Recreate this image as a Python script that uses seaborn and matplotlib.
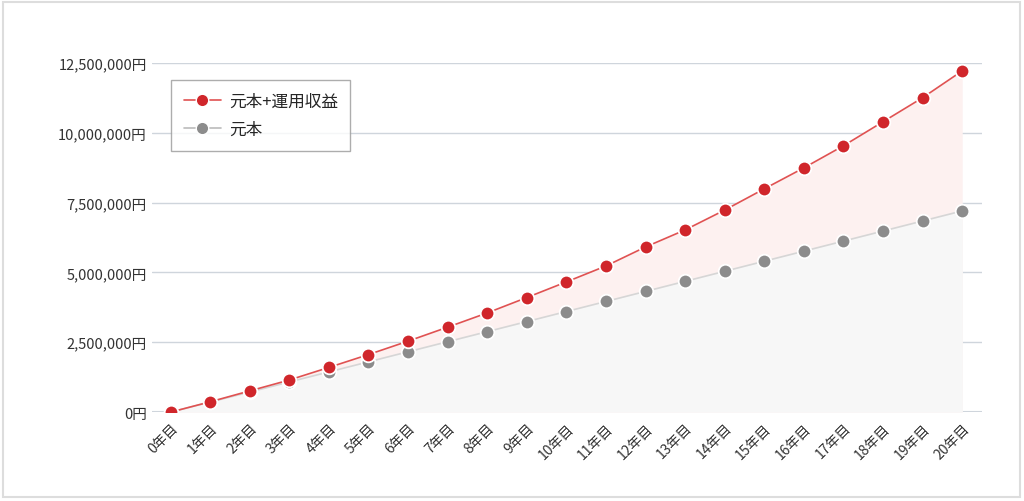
import matplotlib
matplotlib.use("Agg")
import matplotlib.pyplot as plt
import matplotlib.patches as mpatches
import seaborn as sns
import pandas as pd
from matplotlib.ticker import FuncFormatter, MultipleLocator

# data
years = list(range(21))
year_labels = [f"{y}年目" for y in years]
principal = [y * 360000 for y in years]
total = [0, 370000, 760000, 1150000, 1600000, 2060000, 2540000, 3040000, 3550000,
         4100000, 4660000, 5230000, 5910000, 6520000, 7230000, 7990000, 8740000,
         9530000, 10390000, 11250000, 12210000]
series_names = ["元本+運用収益", "元本"]

sns.set_style("white")
plt.rcParams["font.family"] = ["Noto Sans CJK JP", "DejaVu Sans"]

df = pd.DataFrame({"year": years, "total": total, "principal": principal})

fig = plt.figure(figsize=(10.24, 5.02), dpi=100)
ax = fig.add_axes([0.148, 0.177, 0.811, 0.696])

# fills
ax.fill_between(df["year"], df["total"], color="#fdf1f0", zorder=1, linewidth=0)
ax.fill_between(df["year"], df["principal"], color="#f7f7f7", zorder=1.1, linewidth=0)

ms = 9.8
sns.lineplot(data=df, x="year", y="principal", ax=ax, color="#d6d6d6", lw=1.2,
             marker="o", markersize=ms, markerfacecolor="#8c8c8c",
             markeredgecolor="white", markeredgewidth=1.3, zorder=3)
sns.lineplot(data=df, x="year", y="total", ax=ax, color="#e05252", lw=1.2,
             marker="o", markersize=ms, markerfacecolor="#d0262b",
             markeredgecolor="white", markeredgewidth=1.3, zorder=4)

ax.set_xlim(-0.48, 20.5)
ax.set_ylim(0, 12500000)
ax.yaxis.set_major_locator(MultipleLocator(2500000))
ax.yaxis.set_major_formatter(FuncFormatter(lambda v, p: f"{int(v):,}円"))
ax.set_xticks(years)
ax.set_xticklabels(year_labels, rotation=45, ha="right", rotation_mode="anchor")
ax.tick_params(axis="x", length=0, pad=6, labelsize=10, labelcolor="#333333")
ax.tick_params(axis="y", length=0, pad=3.5, labelsize=10.5, labelcolor="#333333")
ax.grid(axis="y", color="#cfd5dc", lw=1, zorder=0)
ax.set_axisbelow(True)
for s in ax.spines.values():
    s.set_visible(False)
ax.axhline(0, color="#cfd5dc", lw=1.5, zorder=0.5)
ax.set_xlabel("")
ax.set_ylabel("")

handles = [
    plt.Line2D([], [], color="#e05252", lw=1.2, marker="o", markersize=9,
               markerfacecolor="#d0262b", markeredgecolor="white", markeredgewidth=1.0),
    plt.Line2D([], [], color="#bbbbbb", lw=1.2, marker="o", markersize=9,
               markerfacecolor="#8c8c8c", markeredgecolor="white", markeredgewidth=1.0),
]
leg = ax.legend(handles, series_names, loc="upper left", bbox_to_anchor=(0.024, 0.951),
                frameon=True, fancybox=False, edgecolor="#999999", fontsize=12,
                handlelength=2.2, borderpad=0.75, labelspacing=0.7, handletextpad=0.5,
                borderaxespad=0)
leg.get_frame().set_linewidth(1)
leg.set_zorder(10)

# outer border
fig.patches.append(mpatches.Rectangle((0.003, 0.008), 0.993, 0.986, transform=fig.transFigure,
                                      fill=False, edgecolor="#dddddd", lw=1.5))

fig.savefig("out.png", dpi=100)
